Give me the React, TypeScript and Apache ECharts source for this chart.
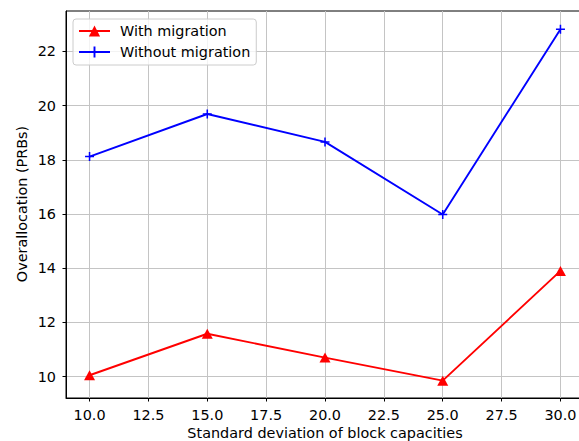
import React, { useEffect, useRef } from "react";
import * as echarts from "echarts";

const xValues = [10, 15, 20, 25, 30];
const withMigration = [10.05, 11.58, 10.7, 9.85, 13.9];
const withoutMigration = [18.12, 19.69, 18.66, 15.98, 22.82];
const xTicks = [10, 12.5, 15, 17.5, 20, 22.5, 25, 27.5, 30];
const yTicks = [10, 12, 14, 16, 18, 20, 22];
const seriesNames = ["With migration", "Without migration"];
const xTitle = "Standard deviation of block capacities";
const yTitle = "Overallocation (PRBs)";

const FONT = "DejaVu Sans";
const FS = 14.4;
const PLUS = "path://M-1,-0.17L1,-0.17L1,0.17L-1,0.17Z M-0.17,-1L0.17,-1L0.17,1L-0.17,1Z";

export default function App() {
  const ref = useRef<HTMLDivElement>(null);
  useEffect(() => {
    const chart = echarts.init(ref.current!, null, { renderer: "svg" });
    const toPairs = (ys: number[]) => xValues.map((x, i) => [x, ys[i]]);
    chart.setOption({
      animation: false,
      backgroundColor: "#ffffff",
      textStyle: { fontFamily: FONT },
      grid: {
        left: 66, top: 11, right: -5, bottom: 43,
        containLabel: false, outerBoundsMode: "none",
        show: true, borderColor: "#000", borderWidth: 1, backgroundColor: "transparent",
      },
      legend: {
        orient: "vertical",
        left: 73,
        top: 19,
        padding: [5, 6, 6, 5],
        itemWidth: 31,
        itemHeight: 14,
        itemGap: 7,
        borderColor: "#cccccc",
        borderWidth: 1,
        borderRadius: 3,
        backgroundColor: "rgba(255,255,255,0.8)",
        textStyle: { fontFamily: FONT, fontSize: FS, color: "#000", padding: [0, 0, 0, 5] },
        data: seriesNames,
      },
      xAxis: {
        type: "value",
        min: 9,
        max: 31,
        axisLine: { show: true, lineStyle: { color: "#000", width: 1 } },
        axisTick: { show: true, length: 3.5, lineStyle: { color: "#000" }, customValues: xTicks },
        axisLabel: { customValues: xTicks, margin: 10, fontFamily: FONT, fontSize: FS, color: "#000", formatter: (v: number) => v.toFixed(1) },
        splitLine: { show: true, lineStyle: { color: "#c4c4c4", width: 1 } },
      },
      yAxis: {
        type: "value",
        min: 9.21,
        max: 23.49,
        axisLine: { show: true, lineStyle: { color: "#000", width: 1 } },
        axisTick: { show: true, length: 3.5, lineStyle: { color: "#000" }, customValues: yTicks },
        axisLabel: { customValues: yTicks, margin: 10, fontFamily: FONT, fontSize: FS, color: "#000", formatter: (v: number) => String(v) },
        splitLine: { show: true, lineStyle: { color: "#c4c4c4", width: 1 } },
      },
      graphic: [
        { type: "text", x: 325, y: 433, style: { text: xTitle, font: `${FS}px "${FONT}"`, fill: "#000", align: "center", verticalAlign: "middle" } },
        { type: "text", x: 22, y: 204, rotation: Math.PI / 2, style: { text: yTitle, font: `${FS}px "${FONT}"`, fill: "#000", align: "center", verticalAlign: "middle" } },
      ],
      series: [
        {
          name: seriesNames[0],
          type: "line",
          data: toPairs(withMigration),
          symbol: "triangle",
          symbolSize: [11, 10],
          showAllSymbol: true,
          itemStyle: { color: "#ff0000" },
          lineStyle: { color: "#ff0000", width: 1.9 },
          z: 3,
        },
        {
          name: seriesNames[1],
          type: "line",
          data: toPairs(withoutMigration),
          symbol: PLUS,
          symbolSize: 9,
          showAllSymbol: true,
          itemStyle: { color: "#0000ff" },
          lineStyle: { color: "#0000ff", width: 1.9 },
          z: 3,
        },
      ],
    });
    return () => chart.dispose();
  }, []);
  return <div ref={ref} style={{ position: "absolute", left: 0, top: 0, width: 579, height: 441 }} />;
}
